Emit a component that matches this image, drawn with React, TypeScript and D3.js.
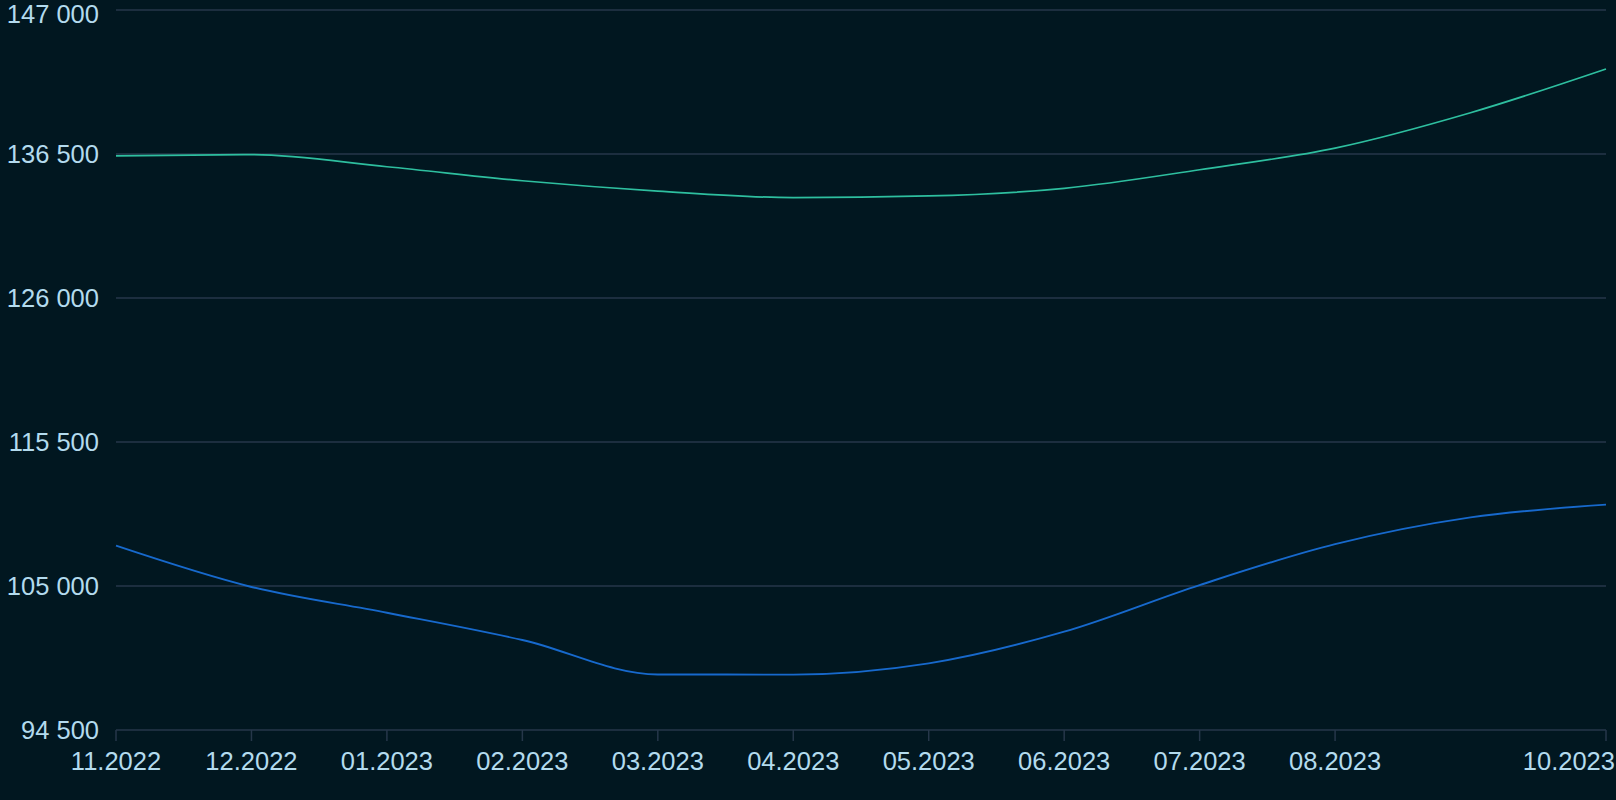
import { useEffect, useRef } from "react";
import * as d3 from "d3";

const months = [
  "11.2022", "12.2022", "01.2023", "02.2023", "03.2023", "04.2023",
  "05.2023", "06.2023", "07.2023", "08.2023", "09.2023", "10.2023",
];
const tickLabels = [
  "11.2022", "12.2022", "01.2023", "02.2023", "03.2023", "04.2023",
  "05.2023", "06.2023", "07.2023", "08.2023", "10.2023",
];
const greenSeries = [
  136360, 136450, 135570, 134550, 133800, 133320,
  133440, 134000, 135350, 136930, 139510, 142700,
];
const blueSeries = [
  107940, 104930, 103050, 101060, 98550, 98540,
  99360, 101670, 105070, 108050, 110000, 110930,
];
const yTicks = [94500, 105000, 115500, 126000, 136500, 147000];

export default function App() {
  const svgRef = useRef<SVGSVGElement>(null);

  useEffect(() => {
    if (!svgRef.current) return;
    document.body.style.margin = "0";

    const width = 1616;
    const height = 800;
    const margin = { top: 10, right: 10, bottom: 70, left: 116 };
    const font = "'Liberation Sans', Arial, Helvetica, sans-serif";
    const fontSize = 25.5;
    const textColor = "#b3dbee";
    const gridColor = "#26374a";

    d3.select(svgRef.current).selectAll("*").remove();
    const svg = d3
      .select(svgRef.current)
      .attr("width", width)
      .attr("height", height)
      .attr("viewBox", `0 0 ${width} ${height}`);

    svg.append("rect").attr("width", width).attr("height", height).attr("fill", "#011720");

    const x = d3
      .scalePoint<string>()
      .domain(months)
      .range([margin.left, width - margin.right]);

    const y = d3
      .scaleLinear()
      .domain([94500, 147000])
      .range([height - margin.bottom, margin.top]);

    // grid + y labels
    const gy = svg.append("g");
    yTicks.forEach((t) => {
      gy.append("line")
        .attr("x1", margin.left)
        .attr("x2", width - margin.right)
        .attr("y1", y(t))
        .attr("y2", y(t))
        .attr("stroke", gridColor)
        .attr("stroke-width", 1.5);
      gy.append("text")
        .attr("x", 99)
        .attr("y", Math.max(y(t) + 9, 23))
        .attr("text-anchor", "end")
        .attr("fill", textColor)
        .attr("font-family", font)
        .attr("font-size", fontSize)
        .text(d3.format(",")(t).replace(/,/g, " "));
    });

    // x ticks + labels
    const gx = svg.append("g");
    tickLabels.forEach((m) => {
      const px = x(m)!;
      gx.append("line")
        .attr("x1", px)
        .attr("x2", px)
        .attr("y1", y(94500))
        .attr("y2", y(94500) + 11)
        .attr("stroke", gridColor)
        .attr("stroke-width", 1.5);
      const t = gx
        .append("text")
        .attr("x", px)
        .attr("y", 770)
        .attr("fill", textColor)
        .attr("font-family", font)
        .attr("font-size", fontSize)
        .text(m);
      if (px + 46 > width) t.attr("x", width - 1).attr("text-anchor", "end");
      else t.attr("text-anchor", "middle");
    });

    const line = d3
      .line<number>()
      .x((_, i) => x(months[i])!)
      .y((d) => y(d))
      .curve(d3.curveMonotoneX);

    svg
      .append("path")
      .datum(greenSeries)
      .attr("fill", "none")
      .attr("stroke", "#2ebf9f")
      .attr("stroke-width", 1.7)
      .attr("d", line);

    svg
      .append("path")
      .datum(blueSeries)
      .attr("fill", "none")
      .attr("stroke", "#1769cc")
      .attr("stroke-width", 1.9)
      .attr("d", line);
  }, []);

  return (
    <div style={{ position: "absolute", left: 0, top: 0, width: 1616, height: 800 }}>
      <svg ref={svgRef} style={{ display: "block" }} />
    </div>
  );
}
